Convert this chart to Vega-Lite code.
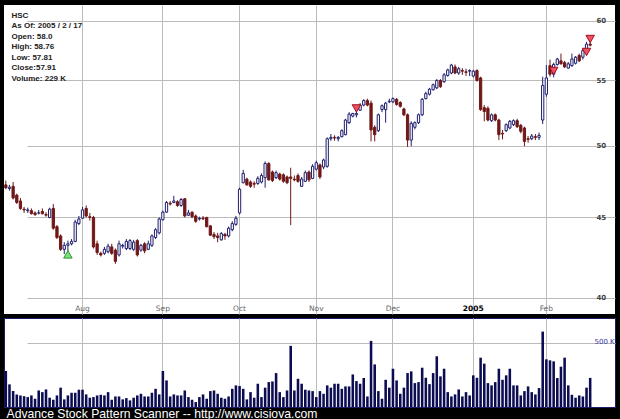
{
  "$schema": "https://vega.github.io/schema/vega-lite/v6.json",
  "background": "#000000",
  "padding": {"left": 3, "top": 5, "right": 6, "bottom": 0},
  "autosize": {"type": "pad"},
  "spacing": 4,
  "bounds": "flush",
  "datasets": {
    "ohlc": [
      {"date":"2004-07-01","open":47.2,"high":47.5,"low":46.9,"close":47.0,"volume":283000},
      {"date":"2004-07-02","open":46.95,"high":47.2,"low":46.8,"close":47.05,"volume":178000},
      {"date":"2004-07-06","open":47.1,"high":47.4,"low":46.2,"close":46.3,"volume":125000},
      {"date":"2004-07-07","open":46.5,"high":46.6,"low":45.9,"close":46.0,"volume":99000},
      {"date":"2004-07-08","open":46.1,"high":46.3,"low":45.5,"close":45.6,"volume":91000},
      {"date":"2004-07-09","open":45.55,"high":45.7,"low":45.3,"close":45.5,"volume":85000},
      {"date":"2004-07-12","open":45.45,"high":45.65,"low":45.3,"close":45.5,"volume":78000},
      {"date":"2004-07-13","open":45.45,"high":45.6,"low":45.2,"close":45.25,"volume":91000},
      {"date":"2004-07-14","open":45.3,"high":45.4,"low":45.1,"close":45.2,"volume":65000},
      {"date":"2004-07-15","open":45.3,"high":45.5,"low":45.2,"close":45.3,"volume":130000},
      {"date":"2004-07-16","open":45.4,"high":45.6,"low":45.2,"close":45.25,"volume":117000},
      {"date":"2004-07-19","open":45.2,"high":45.35,"low":45.05,"close":45.15,"volume":138000},
      {"date":"2004-07-20","open":45.0,"high":45.65,"low":44.95,"close":45.55,"volume":73000},
      {"date":"2004-07-21","open":45.6,"high":45.9,"low":44.2,"close":44.3,"volume":57000},
      {"date":"2004-07-22","open":44.4,"high":44.5,"low":43.6,"close":43.7,"volume":91000},
      {"date":"2004-07-23","open":43.8,"high":43.9,"low":42.85,"close":42.95,"volume":152000},
      {"date":"2004-07-26","open":42.95,"high":43.4,"low":42.65,"close":43.2,"volume":60000},
      {"date":"2004-07-27","open":43.2,"high":43.5,"low":42.75,"close":43.3,"volume":91000},
      {"date":"2004-07-28","open":43.3,"high":43.6,"low":43.2,"close":43.45,"volume":112000},
      {"date":"2004-07-29","open":43.45,"high":44.85,"low":43.4,"close":44.7,"volume":112000},
      {"date":"2004-07-30","open":44.6,"high":45.1,"low":44.5,"close":44.9,"volume":136000},
      {"date":"2004-08-02","open":44.95,"high":45.7,"low":44.9,"close":45.5,"volume":136000},
      {"date":"2004-08-03","open":45.6,"high":45.8,"low":45.0,"close":45.1,"volume":99000},
      {"date":"2004-08-04","open":45.05,"high":45.3,"low":44.8,"close":45.0,"volume":73000},
      {"date":"2004-08-05","open":45.0,"high":45.1,"low":43.0,"close":43.1,"volume":78000},
      {"date":"2004-08-06","open":43.3,"high":43.5,"low":42.6,"close":42.75,"volume":91000},
      {"date":"2004-08-09","open":42.7,"high":42.8,"low":42.5,"close":42.6,"volume":96000},
      {"date":"2004-08-10","open":42.7,"high":43.1,"low":42.6,"close":42.95,"volume":91000},
      {"date":"2004-08-11","open":42.8,"high":43.3,"low":42.7,"close":43.15,"volume":117000},
      {"date":"2004-08-12","open":43.1,"high":43.3,"low":42.6,"close":42.7,"volume":57000},
      {"date":"2004-08-13","open":42.9,"high":43.0,"low":42.05,"close":42.2,"volume":83000},
      {"date":"2004-08-16","open":42.6,"high":43.5,"low":42.5,"close":43.3,"volume":83000},
      {"date":"2004-08-17","open":43.15,"high":43.3,"low":43.0,"close":43.2,"volume":60000},
      {"date":"2004-08-18","open":43.0,"high":43.6,"low":42.9,"close":43.45,"volume":70000},
      {"date":"2004-08-19","open":43.0,"high":43.6,"low":42.9,"close":43.5,"volume":52000},
      {"date":"2004-08-20","open":42.95,"high":43.55,"low":42.85,"close":43.4,"volume":73000},
      {"date":"2004-08-23","open":43.5,"high":43.6,"low":42.5,"close":42.6,"volume":91000},
      {"date":"2004-08-24","open":42.9,"high":43.3,"low":42.8,"close":43.2,"volume":104000},
      {"date":"2004-08-25","open":43.3,"high":43.4,"low":42.7,"close":42.85,"volume":83000},
      {"date":"2004-08-26","open":42.95,"high":43.5,"low":42.9,"close":43.3,"volume":83000},
      {"date":"2004-08-27","open":43.2,"high":43.9,"low":43.1,"close":43.8,"volume":112000},
      {"date":"2004-08-30","open":43.7,"high":44.3,"low":43.6,"close":44.2,"volume":143000},
      {"date":"2004-08-31","open":44.0,"high":45.0,"low":43.9,"close":44.9,"volume":99000},
      {"date":"2004-09-01","open":44.85,"high":45.45,"low":44.8,"close":45.35,"volume":283000},
      {"date":"2004-09-02","open":45.35,"high":46.1,"low":45.3,"close":46.0,"volume":209000},
      {"date":"2004-09-03","open":45.95,"high":46.1,"low":45.8,"close":45.9,"volume":83000},
      {"date":"2004-09-07","open":46.0,"high":46.45,"low":45.95,"close":46.1,"volume":99000},
      {"date":"2004-09-08","open":46.05,"high":46.15,"low":45.7,"close":45.8,"volume":91000},
      {"date":"2004-09-09","open":45.8,"high":46.3,"low":45.7,"close":46.2,"volume":91000},
      {"date":"2004-09-10","open":46.25,"high":46.3,"low":45.0,"close":45.1,"volume":130000},
      {"date":"2004-09-13","open":45.15,"high":45.5,"low":45.1,"close":45.3,"volume":78000},
      {"date":"2004-09-14","open":45.35,"high":45.4,"low":44.95,"close":45.05,"volume":57000},
      {"date":"2004-09-15","open":45.1,"high":45.2,"low":44.65,"close":44.75,"volume":39000},
      {"date":"2004-09-16","open":44.9,"high":45.05,"low":44.8,"close":44.95,"volume":78000},
      {"date":"2004-09-17","open":44.95,"high":45.1,"low":44.85,"close":44.9,"volume":99000},
      {"date":"2004-09-20","open":45.0,"high":45.05,"low":44.35,"close":44.4,"volume":65000},
      {"date":"2004-09-21","open":44.45,"high":44.5,"low":43.8,"close":43.85,"volume":125000},
      {"date":"2004-09-22","open":43.9,"high":44.05,"low":43.6,"close":43.75,"volume":130000},
      {"date":"2004-09-23","open":43.8,"high":44.0,"low":43.4,"close":43.7,"volume":104000},
      {"date":"2004-09-24","open":43.55,"high":44.05,"low":43.5,"close":43.95,"volume":73000},
      {"date":"2004-09-27","open":43.9,"high":44.0,"low":43.55,"close":43.8,"volume":65000},
      {"date":"2004-09-28","open":43.8,"high":44.4,"low":43.7,"close":44.3,"volume":83000},
      {"date":"2004-09-29","open":44.2,"high":44.75,"low":44.1,"close":44.6,"volume":143000},
      {"date":"2004-09-30","open":44.55,"high":45.1,"low":44.45,"close":44.95,"volume":170000},
      {"date":"2004-10-01","open":45.3,"high":47.0,"low":45.2,"close":46.9,"volume":165000},
      {"date":"2004-10-04","open":47.35,"high":48.25,"low":47.3,"close":48.0,"volume":143000},
      {"date":"2004-10-05","open":47.6,"high":47.7,"low":47.15,"close":47.2,"volume":60000},
      {"date":"2004-10-06","open":47.4,"high":47.5,"low":47.0,"close":47.1,"volume":117000},
      {"date":"2004-10-07","open":47.3,"high":47.45,"low":47.0,"close":47.25,"volume":73000},
      {"date":"2004-10-08","open":47.3,"high":47.8,"low":47.2,"close":47.65,"volume":183000},
      {"date":"2004-10-11","open":47.4,"high":48.0,"low":47.3,"close":47.85,"volume":78000},
      {"date":"2004-10-12","open":47.7,"high":48.85,"low":47.0,"close":48.7,"volume":152000},
      {"date":"2004-10-13","open":48.7,"high":48.8,"low":47.5,"close":47.55,"volume":196000},
      {"date":"2004-10-14","open":48.1,"high":48.2,"low":47.4,"close":47.5,"volume":201000},
      {"date":"2004-10-15","open":47.7,"high":48.2,"low":47.6,"close":48.05,"volume":267000},
      {"date":"2004-10-18","open":47.95,"high":48.05,"low":47.5,"close":47.6,"volume":117000},
      {"date":"2004-10-19","open":47.9,"high":48.0,"low":47.35,"close":47.45,"volume":78000},
      {"date":"2004-10-20","open":47.75,"high":47.85,"low":47.25,"close":47.35,"volume":130000},
      {"date":"2004-10-21","open":47.75,"high":48.4,"low":44.5,"close":47.65,"volume":481000},
      {"date":"2004-10-22","open":47.6,"high":47.85,"low":47.45,"close":47.55,"volume":130000},
      {"date":"2004-10-25","open":47.85,"high":48.0,"low":47.35,"close":47.45,"volume":222000},
      {"date":"2004-10-26","open":47.1,"high":47.75,"low":47.05,"close":47.6,"volume":183000},
      {"date":"2004-10-27","open":47.45,"high":48.2,"low":47.4,"close":48.05,"volume":136000},
      {"date":"2004-10-28","open":48.1,"high":48.2,"low":47.4,"close":47.55,"volume":130000},
      {"date":"2004-10-29","open":47.65,"high":48.65,"low":47.6,"close":48.5,"volume":125000},
      {"date":"2004-11-01","open":48.3,"high":48.9,"low":48.2,"close":48.75,"volume":78000},
      {"date":"2004-11-02","open":48.6,"high":48.7,"low":47.6,"close":47.75,"volume":125000},
      {"date":"2004-11-03","open":48.45,"high":49.05,"low":48.3,"close":48.95,"volume":104000},
      {"date":"2004-11-04","open":48.5,"high":50.6,"low":48.4,"close":50.5,"volume":170000},
      {"date":"2004-11-05","open":50.5,"high":50.85,"low":50.35,"close":50.6,"volume":152000},
      {"date":"2004-11-08","open":50.6,"high":50.75,"low":50.35,"close":50.55,"volume":183000},
      {"date":"2004-11-09","open":50.5,"high":50.7,"low":50.3,"close":50.6,"volume":183000},
      {"date":"2004-11-10","open":50.65,"high":51.2,"low":50.6,"close":51.1,"volume":143000},
      {"date":"2004-11-11","open":50.8,"high":52.0,"low":50.75,"close":51.9,"volume":162000},
      {"date":"2004-11-12","open":51.7,"high":52.5,"low":51.6,"close":52.35,"volume":162000},
      {"date":"2004-11-15","open":52.2,"high":52.45,"low":52.1,"close":52.4,"volume":256000},
      {"date":"2004-11-16","open":52.3,"high":52.7,"low":52.1,"close":52.4,"volume":204000},
      {"date":"2004-11-17","open":52.65,"high":53.2,"low":52.6,"close":53.05,"volume":183000},
      {"date":"2004-11-18","open":53.05,"high":53.5,"low":52.95,"close":53.4,"volume":228000},
      {"date":"2004-11-19","open":53.4,"high":53.55,"low":52.95,"close":53.05,"volume":83000},
      {"date":"2004-11-22","open":53.2,"high":53.4,"low":50.3,"close":51.15,"volume":520000},
      {"date":"2004-11-23","open":51.35,"high":51.5,"low":50.3,"close":50.8,"volume":335000},
      {"date":"2004-11-24","open":51.1,"high":52.4,"low":51.0,"close":52.3,"volume":125000},
      {"date":"2004-11-26","open":52.7,"high":53.1,"low":52.5,"close":53.0,"volume":65000},
      {"date":"2004-11-29","open":52.7,"high":53.3,"low":51.7,"close":53.2,"volume":214000},
      {"date":"2004-11-30","open":53.3,"high":53.55,"low":53.2,"close":53.35,"volume":152000},
      {"date":"2004-12-01","open":53.3,"high":53.65,"low":53.2,"close":53.55,"volume":301000},
      {"date":"2004-12-02","open":53.5,"high":53.6,"low":53.0,"close":53.1,"volume":209000},
      {"date":"2004-12-03","open":53.25,"high":53.35,"low":52.85,"close":52.95,"volume":104000},
      {"date":"2004-12-06","open":52.75,"high":52.85,"low":52.2,"close":52.3,"volume":152000},
      {"date":"2004-12-07","open":52.3,"high":52.4,"low":49.9,"close":50.4,"volume":267000},
      {"date":"2004-12-08","open":50.4,"high":51.8,"low":49.95,"close":51.65,"volume":280000},
      {"date":"2004-12-09","open":51.35,"high":51.8,"low":51.2,"close":51.7,"volume":188000},
      {"date":"2004-12-10","open":51.7,"high":52.4,"low":51.6,"close":52.3,"volume":196000},
      {"date":"2004-12-13","open":52.3,"high":53.6,"low":52.2,"close":53.5,"volume":309000},
      {"date":"2004-12-14","open":53.55,"high":54.1,"low":53.5,"close":53.95,"volume":230000},
      {"date":"2004-12-15","open":53.9,"high":54.4,"low":53.8,"close":54.3,"volume":180000},
      {"date":"2004-12-16","open":54.25,"high":54.75,"low":54.2,"close":54.65,"volume":267000},
      {"date":"2004-12-17","open":54.4,"high":55.1,"low":54.3,"close":55.0,"volume":399000},
      {"date":"2004-12-20","open":55.0,"high":55.1,"low":54.4,"close":54.5,"volume":241000},
      {"date":"2004-12-21","open":54.9,"high":55.6,"low":54.8,"close":55.45,"volume":301000},
      {"date":"2004-12-22","open":55.4,"high":55.95,"low":55.3,"close":55.85,"volume":117000},
      {"date":"2004-12-23","open":55.6,"high":56.35,"low":55.5,"close":56.25,"volume":83000},
      {"date":"2004-12-27","open":56.1,"high":56.3,"low":55.5,"close":55.6,"volume":99000},
      {"date":"2004-12-28","open":55.6,"high":56.1,"low":55.45,"close":55.95,"volume":138000},
      {"date":"2004-12-29","open":55.8,"high":56.0,"low":55.45,"close":55.75,"volume":83000},
      {"date":"2004-12-30","open":55.7,"high":55.95,"low":55.35,"close":55.65,"volume":117000},
      {"date":"2004-12-31","open":55.75,"high":55.9,"low":55.35,"close":55.8,"volume":91000},
      {"date":"2005-01-03","open":55.35,"high":55.85,"low":55.25,"close":55.75,"volume":249000},
      {"date":"2005-01-04","open":55.8,"high":55.9,"low":54.9,"close":55.0,"volume":230000},
      {"date":"2005-01-05","open":55.2,"high":55.3,"low":52.6,"close":52.7,"volume":388000},
      {"date":"2005-01-06","open":52.85,"high":53.05,"low":51.8,"close":52.55,"volume":341000},
      {"date":"2005-01-07","open":52.8,"high":52.95,"low":51.8,"close":51.9,"volume":188000},
      {"date":"2005-01-10","open":51.85,"high":52.4,"low":51.75,"close":52.3,"volume":170000},
      {"date":"2005-01-11","open":52.3,"high":52.4,"low":51.8,"close":51.9,"volume":196000},
      {"date":"2005-01-12","open":51.9,"high":52.0,"low":50.4,"close":50.8,"volume":301000},
      {"date":"2005-01-13","open":50.9,"high":51.15,"low":50.45,"close":50.85,"volume":214000},
      {"date":"2005-01-14","open":51.1,"high":51.65,"low":51.0,"close":51.55,"volume":249000},
      {"date":"2005-01-18","open":51.3,"high":51.9,"low":51.2,"close":51.8,"volume":301000},
      {"date":"2005-01-19","open":51.55,"high":51.95,"low":51.45,"close":51.85,"volume":170000},
      {"date":"2005-01-20","open":51.85,"high":52.0,"low":51.3,"close":51.4,"volume":170000},
      {"date":"2005-01-21","open":51.5,"high":51.6,"low":50.9,"close":51.05,"volume":91000},
      {"date":"2005-01-24","open":51.3,"high":51.4,"low":49.95,"close":50.3,"volume":125000},
      {"date":"2005-01-25","open":50.5,"high":50.7,"low":50.2,"close":50.45,"volume":162000},
      {"date":"2005-01-26","open":50.5,"high":50.85,"low":50.4,"close":50.7,"volume":117000},
      {"date":"2005-01-27","open":50.65,"high":50.85,"low":50.4,"close":50.6,"volume":99000},
      {"date":"2005-01-28","open":50.6,"high":50.95,"low":50.4,"close":50.75,"volume":149000},
      {"date":"2005-01-31","open":51.9,"high":55.3,"low":51.6,"close":54.6,"volume":593000},
      {"date":"2005-02-01","open":53.9,"high":56.25,"low":53.7,"close":55.2,"volume":375000},
      {"date":"2005-02-02","open":56.2,"high":56.7,"low":55.3,"close":55.5,"volume":367000},
      {"date":"2005-02-03","open":55.5,"high":56.45,"low":55.25,"close":56.3,"volume":359000},
      {"date":"2005-02-04","open":56.3,"high":56.85,"low":56.2,"close":56.75,"volume":228000},
      {"date":"2005-02-07","open":56.6,"high":57.2,"low":56.3,"close":56.35,"volume":317000},
      {"date":"2005-02-08","open":56.45,"high":56.6,"low":56.0,"close":56.1,"volume":388000},
      {"date":"2005-02-09","open":56.0,"high":56.5,"low":55.95,"close":56.35,"volume":170000},
      {"date":"2005-02-10","open":56.2,"high":57.2,"low":56.1,"close":56.75,"volume":96000},
      {"date":"2005-02-11","open":56.4,"high":57.0,"low":56.3,"close":56.9,"volume":73000},
      {"date":"2005-02-14","open":57.05,"high":57.2,"low":56.5,"close":56.6,"volume":91000},
      {"date":"2005-02-15","open":56.9,"high":57.6,"low":56.7,"close":57.45,"volume":83000},
      {"date":"2005-02-16","open":57.3,"high":58.2,"low":57.1,"close":58.0,"volume":152000},
      {"date":"2005-02-17","open":58.0,"high":58.76,"low":57.81,"close":57.91,"volume":229000}
    ],
    "signals": [
      {"date":"2004-07-27","type":"buy","price":42.63},
      {"date":"2004-11-16","type":"sell","price":52.79},
      {"date":"2005-02-03","type":"sell","price":55.77},
      {"date":"2005-02-16","type":"sell","price":57.34},
      {"date":"2005-02-17","type":"sell","price":58.44}
    ]
  },
  "vconcat": [
    {
      "width": 611,
      "height": 309,
      "view": {"fill": "#ffffff", "stroke": null},
      "data": {"name": "ohlc"},
      "encoding": {
        "x": {
          "field": "date",
          "type": "ordinal",
          "scale": {"paddingInner": 0, "paddingOuter": 0, "range": [0, 588]},
          "axis": {
            "orient": "bottom",
            "offset": -16,
            "values": ["2004-08-02","2004-09-01","2004-10-01","2004-11-01","2004-12-01","2005-01-03","2005-02-01"],
            "labelExpr": "datum.value == '2005-01-03' ? '2005' : utcFormat(toDate(datum.value), '%b')",
            "labelAngle": 0,
            "labelFont": "DejaVu Sans",
            "labelFontSize": 7.5,
            "labelColor": {"condition": {"test": "datum.value == '2005-01-03'", "value": "#000000"}, "value": "#666666"},
            "labelFontWeight": {"condition": {"test": "datum.value == '2005-01-03'", "value": "bold"}, "value": "normal"},
            "labelBaseline": "top",
            "labelPadding": 2,
            "labelOverlap": false,
            "domain": false,
            "ticks": true,
            "tickSize": 4,
            "tickColor": "#bbbbbb",
            "grid": true,
            "gridColor": "#bbbbbb",
            "gridWidth": 1,
            "title": ["HSC", "As Of: 2005 / 2 / 17", "Open: 58.0", "High: 58.76", "Low: 57.81", "Close:57.91", "Volume: 229 K"],
            "titleX": 7,
            "titleY": -281,
            "titleAlign": "left",
            "titleAnchor": "start",
            "titleAngle": 0,
            "titleBaseline": "alphabetic",
            "titleFont": "Liberation Sans",
            "titleFontSize": 8,
            "titleFontWeight": "bold",
            "titleColor": "#222222",
            "titleLineHeight": 10.55
          }
        }
      },
      "layer": [
        {
          "mark": {"type": "rule", "strokeWidth": 1},
          "encoding": {
            "y": {
              "field": "low",
              "type": "quantitative",
              "title": null,
              "scale": {"type": "log", "domain": [39.07, 61.42], "nice": false, "zero": false},
              "axis": {
                "orient": "right",
                "offset": -22,
                "values": [40, 45, 50, 55, 60],
                "format": "d",
                "labelFont": "DejaVu Sans",
                "labelFontSize": 7,
                "labelFontWeight": "bold",
                "labelColor": "#444444",
                "labelPadding": 3,
                "labelBaseline": "middle",
                "ticks": false,
                "domain": false,
                "grid": true,
                "gridColor": "#bbbbbb",
                "gridWidth": 1,
                "title": null
              }
            },
            "y2": {"field": "high"},
            "color": {"condition": {"test": "datum.close >= datum.open", "value": "#1e1e70"}, "value": "#701818"}
          }
        },
        {
          "mark": {"type": "bar", "width": {"band": 0.62}, "strokeWidth": 1},
          "encoding": {
            "y": {"field": "open", "type": "quantitative", "title": null},
            "y2": {"field": "close"},
            "fill": {"condition": {"test": "datum.close >= datum.open", "value": "#ffffff"}, "value": "#701818"},
            "stroke": {"condition": {"test": "datum.close >= datum.open", "value": "#1e1e70"}, "value": "#701818"}
          }
        },
        {
          "data": {"name": "signals"},
          "mark": {"type": "point", "filled": true, "size": 72, "strokeWidth": 1, "opacity": 1},
          "encoding": {
            "y": {"field": "price", "type": "quantitative", "title": null},
            "shape": {"condition": {"test": "datum.type == 'buy'", "value": "triangle-up"}, "value": "triangle-down"},
            "fill": {"condition": {"test": "datum.type == 'buy'", "value": "#80e080"}, "value": "#f0505f"},
            "stroke": {"condition": {"test": "datum.type == 'buy'", "value": "#2a9a2a"}, "value": "#a01020"}
          }
        }
      ]
    },
    {
      "width": 611,
      "height": 89,
      "view": {"fill": "#ffffff", "stroke": "#1c1c6a", "strokeWidth": 1},
      "data": {"name": "ohlc"},
      "mark": {"type": "bar", "width": {"band": 0.7}, "color": "#0c0c52"},
      "encoding": {
        "x": {
          "field": "date",
          "type": "ordinal",
          "scale": {"paddingInner": 0, "paddingOuter": 0, "range": [0, 588]},
          "axis": {
            "values": ["2004-08-02","2004-09-01","2004-10-01","2004-11-01","2004-12-01","2005-01-03","2005-02-01"],
            "labels": false,
            "ticks": false,
            "domain": false,
            "grid": true,
            "gridColor": "#bbbbbb",
            "gridWidth": 1,
            "title": "Advance Stock Pattern Scanner -- http://www.cisiova.com",
            "titleX": 2,
            "titleY": 10,
            "titleAlign": "left",
            "titleAnchor": "start",
            "titleBaseline": "alphabetic",
            "titleColor": "#ffffff",
            "titleFont": "Liberation Sans",
            "titleFontSize": 12.2,
            "titleFontWeight": "normal"
          }
        },
        "y": {
          "field": "volume",
          "type": "quantitative",
          "scale": {"domain": [0, 700000], "nice": false},
          "axis": {
            "orient": "right",
            "offset": -22,
            "values": [500000],
            "labelExpr": "'500 K'",
            "labelFont": "DejaVu Sans",
            "labelFontSize": 7,
            "labelColor": "#3a3aa0",
            "labelBaseline": "alphabetic",
            "labelPadding": 1,
            "ticks": false,
            "domain": false,
            "grid": true,
            "gridColor": "#bbbbbb",
            "gridWidth": 1,
            "title": null
          }
        }
      }
    }
  ]
}
